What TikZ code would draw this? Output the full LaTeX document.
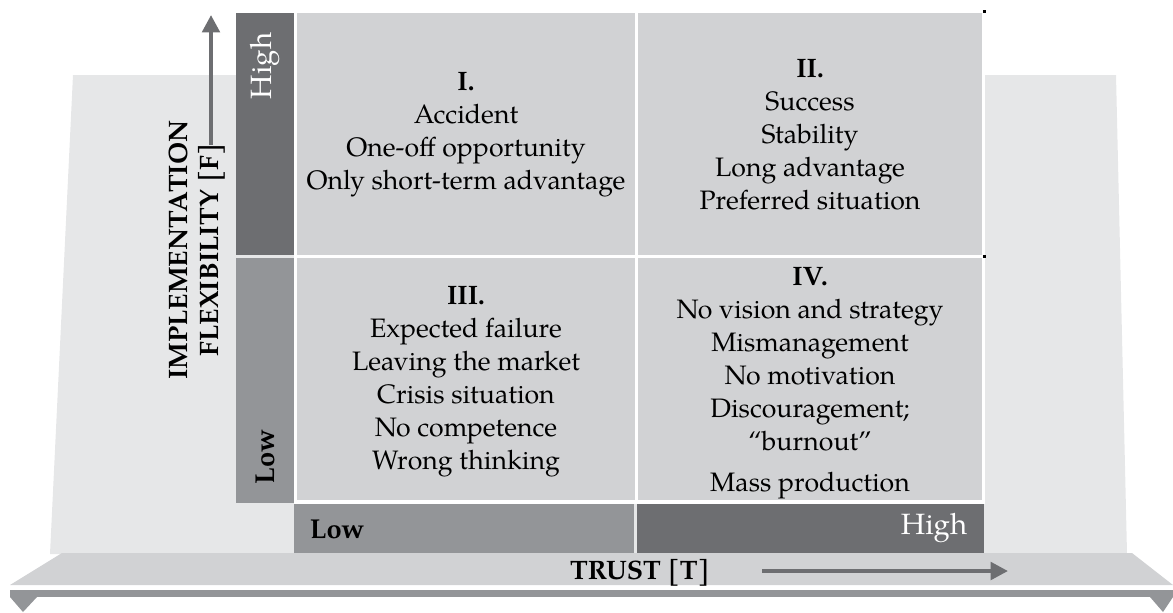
\documentclass[tikz,border=0pt]{standalone}
\usepackage{fontspec}
\setmainfont{TeX Gyre Pagella}
\usetikzlibrary{arrows.meta}
\definecolor{bgc}{HTML}{E6E7E8}
\definecolor{quadc}{HTML}{D1D2D4}
\definecolor{darkc}{HTML}{6D6E71}
\definecolor{midc}{HTML}{939598}
\tikzset{
  qtext/.style={align=center, inner sep=0pt, font=\fontsize{20}{24.75}\selectfont},
  axlab/.style={align=center, inner sep=0pt, font=\fontsize{20}{23.5}\selectfont\bfseries},
  hilab/.style={inner sep=0pt, text=white, font=\fontsize{22}{24}\selectfont},
  lolab/.style={inner sep=0pt, font=\fontsize{20.5}{24}\selectfont\bfseries},
  axarrow/.style={draw=darkc, line width=3pt, -{Triangle[length=13pt,width=13pt]}}
}
\begin{document}
\begin{tikzpicture}[x=0.75pt,y=-0.75pt]
\useasboundingbox (0,0) rectangle (1173,612);
% background trapezoid and platform
\fill[bgc] (73,75) -- (1116,75) -- (1127,554) -- (50,554) -- cycle;
\fill[quadc] (10,585) -- (62,553) -- (1132,553) -- (1173,585) -- cycle;
\fill[midc] (10,590) rectangle (1173,597);
\fill[midc] (10,597) -- (37,597) -- (23,612) -- cycle;
\fill[midc] (1150,597) -- (1173,597) -- (1163,612) -- cycle;
% grid
\fill[white] (294,11) rectangle (985,504);
\fill[darkc] (236,13) rectangle (294,255);
\fill[midc] (236,258) rectangle (294,503);
\fill[quadc] (297,13) rectangle (635,255);
\fill[quadc] (638,13) rectangle (982,255);
\fill[quadc] (297,258) rectangle (635,500);
\fill[quadc] (638,258) rectangle (982,500);
\fill[midc] (294,504) rectangle (634,553);
\fill[darkc] (637,504) rectangle (984,553);
\fill[black] (983,10) rectangle (986,13);
\fill[black] (983,255) rectangle (986,258);
% quadrant texts
\node[qtext] (q1) at (466,135) {\textbf{I.}\\Accident\\One-off opportunity\\Only short-term advantage};
\node[qtext] (q2) at (810,135) {\textbf{II.}\\Success\\Stability\\Long advantage\\Preferred situation};
\node[qtext] (q3) at (466,382) {\textbf{III.}\\Expected failure\\Leaving the market\\Crisis situation\\No competence\\Wrong thinking};
\node[qtext] (q4) at (810,383) {\textbf{IV.}\\No vision and strategy\\Mismanagement\\No motivation\\Discouragement;\\“burnout”\\[6pt]Mass production};
% axis labels
\node[axlab, rotate=90] (ylab) at (197,250) {IMPLEMENTATION\\FLEXIBILITY [F]};
\node[hilab, rotate=90] (yhigh) at (265,66) {High};
\node[lolab, rotate=90] (ylow) at (265,457) {Low};
\node[lolab] (xlow) at (337,529) {Low};
\node[hilab] (xhigh) at (934,528) {High};
\node[axlab] (xlab) at (640,573) {TRUST [T]};
% arrows
\coordinate (va) at (211,145);
\coordinate (vb) at (211,15);
\coordinate (ha) at (762,571);
\coordinate (hb) at (1008,571);
\draw[axarrow] (va) -- (vb);
\draw[axarrow] (ha) -- (hb);
\end{tikzpicture}
\end{document}
